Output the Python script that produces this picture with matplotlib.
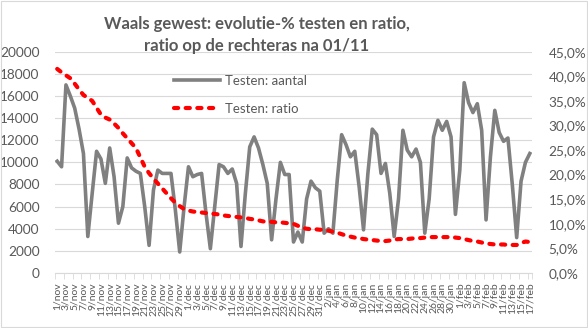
import numpy as np
import matplotlib.pyplot as plt
from matplotlib.lines import Line2D
from matplotlib.patches import Rectangle
from matplotlib.ticker import FuncFormatter

plt.rcParams['font.family'] = ['Lato', 'DejaVu Sans']

# maanden en aantal dagen in de reeks (1/nov t/m 17/feb)
maanden = [("nov", 30), ("dec", 31), ("jan", 31), ("feb", 17)]
dagen = [f"{d}/{m}" for m, n in maanden for d in range(1, n + 1)]

# Testen: aantal (linkeras)
aantal = [
    10100, 9600, 17000, 16000, 14900, 13000, 10800,
    3300, 7200, 11000, 10300, 8100, 11300, 8700,
    4500, 6000, 10400, 9500, 9200, 9000, 6000,
    2500, 7500, 9300, 9000, 9000, 9000, 5700,
    1900, 6000, 9600, 8700, 8900, 9000, 5400,
    2200, 6000, 9800, 9600, 9000, 9400, 8100,
    2400, 7200, 11400, 12300, 11300, 9800, 8100,
    3000, 6700, 10000, 8900, 8900, 2800, 3700,
    2800, 6700, 8300, 7700, 7400, 3600, 4000,
    3600, 8400, 12500, 11600, 10500, 11000, 7800,
    3900, 9000, 13000, 12500, 9000, 9900, 7200,
    3300, 6700, 12900, 11100, 10500, 11200, 10000,
    3600, 6700, 12300, 13800, 12900, 13700, 12300,
    5300, 9300, 17200, 15400, 14500, 15300, 12900,
    4800, 10500, 14700, 12700, 11900, 12200, 8000,
    3200, 8300, 10000, 10800,
]

# Testen: ratio in % (rechteras)
ratio = [
    41.5, 40.8, 40.2, 39.6, 38.5, 37.3, 36.2,
    35.6, 35.0, 33.6, 32.2, 31.6, 31.2, 30.4,
    29.5, 28.4, 27.4, 26.4, 25.4, 23.5, 21.6,
    20.3, 19.2, 18.2, 17.2, 16.2, 15.2, 14.3,
    13.6, 13.0, 12.7, 12.5, 12.4, 12.3, 12.2,
    12.1, 12.0, 11.9, 11.7, 11.6, 11.5, 11.4,
    11.3, 11.2, 11.0, 10.9, 10.7, 10.5, 10.4,
    10.4, 10.3, 10.3, 10.2, 10.1, 10.0, 9.6,
    9.2, 9.0, 8.9, 8.9, 8.8, 8.8, 8.6,
    8.4, 8.2, 7.9, 7.6, 7.4, 7.2, 7.1,
    6.9, 6.8, 6.7, 6.6, 6.5, 6.5, 6.6,
    6.8, 6.9, 6.9, 6.9, 7.0, 7.1, 7.1,
    7.2, 7.3, 7.3, 7.3, 7.3, 7.3, 7.3,
    7.2, 7.1, 6.9, 6.7, 6.5, 6.4, 6.2,
    6.0, 5.9, 5.8, 5.8, 5.8, 5.7, 5.7,
    5.7, 6.1, 6.4, 6.3,
]

grijs = "#808080"
tekst = "#595959"
raster = "#d9d9d9"

fig = plt.figure(figsize=(5.88, 3.28), dpi=100)
ax = fig.add_axes([55 / 588, 1 - 273 / 328, 477 / 588, 221.3 / 328])
ax2 = ax.twinx()

x = np.arange(len(dagen))
ax.plot(x, aantal, color=grijs, lw=2.6, solid_joinstyle='round', zorder=3)
ax2.plot(x, ratio, color="#ff0000", lw=3.0, linestyle=(0, (1.0, 1.8)),
         dash_capstyle='round', zorder=3)

ax.set_xlim(-0.5, len(dagen) - 0.5)
ax.set_ylim(0, 20000)
ax.set_yticks(np.arange(0, 20001, 2000))
ax2.set_ylim(0, 45)
ax2.set_yticks(np.arange(0, 46, 5))
ax2.yaxis.set_major_formatter(FuncFormatter(lambda v, p: f"{v:.1f}".replace(".", ",") + "%"))

ax.grid(axis='y', color=raster, lw=0.8)
ax.set_axisbelow(True)
for a in (ax, ax2):
    for s in a.spines.values():
        s.set_visible(False)
ax.spines['bottom'].set_visible(True)
ax.spines['bottom'].set_color(raster)

ax.set_xticks(x[::2])
ax.set_xticklabels(dagen[::2], rotation=90)
ax.set_xticks(np.arange(-0.5, len(dagen), 2).tolist() + [len(dagen) - 0.5], minor=True)
ax.tick_params(axis='x', which='major', length=0, pad=7, labelsize=7.5, labelcolor=tekst)
ax.tick_params(axis='x', which='minor', length=4, color=raster)
ax.tick_params(axis='y', length=0, pad=11, labelsize=9.8, labelcolor=tekst)
ax2.tick_params(axis='y', length=0, pad=12, labelsize=9.8, labelcolor=tekst)

fig.text(257 / 588, 1 - 29 / 328, "Waals gewest: evolutie-% testen en ratio,",
         ha='center', va='baseline', fontsize=12, fontweight='bold', color=tekst)
fig.text(257 / 588, 1 - 51 / 328, "ratio op de rechteras na 01/11",
         ha='center', va='baseline', fontsize=12, fontweight='bold', color=tekst)

handles = [
    Line2D([], [], color=grijs, lw=2.6),
    Line2D([], [], color="#ff0000", lw=3.0, linestyle=(0, (1.0, 1.8)), dash_capstyle='round'),
]
ax2.legend(handles, ["Testen: aantal", "Testen: ratio"], loc='upper left',
           bbox_to_anchor=(174 / 588, 1 - 75 / 328), bbox_transform=fig.transFigure,
           frameon=False, borderpad=0, borderaxespad=0, handlelength=3.5,
           handletextpad=0.4, labelspacing=1.2, fontsize=9.5, labelcolor=tekst)

fig.patches.append(Rectangle((0.001, 0.002), 0.997, 0.996, transform=fig.transFigure,
                             fill=False, edgecolor=raster, lw=0.8))

fig.savefig("out.png", dpi=100)
